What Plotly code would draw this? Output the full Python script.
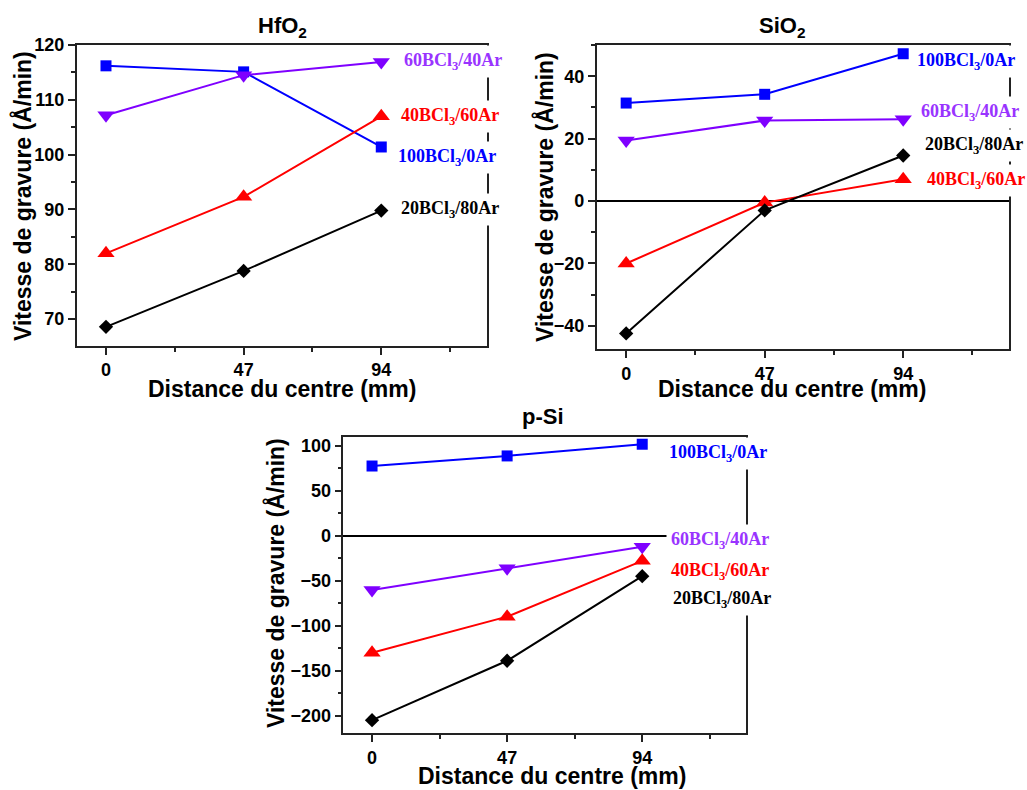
import plotly.graph_objects as go

# ---------------- data ----------------
distance = [0, 47, 94]
x_tick_vals = [0, 47, 94]
x_tick_text = ["0", "47", "94"]
x_minor_vals = [23.5, 70.5, 117.5]

series_names = ["100BCl<sub>3</sub>/0Ar", "60BCl<sub>3</sub>/40Ar",
                "40BCl<sub>3</sub>/60Ar", "20BCl<sub>3</sub>/80Ar"]

hfo2_100 = [116.2, 115.1, 101.4]
hfo2_60 = [107.2, 114.5, 116.9]
hfo2_40 = [82.0, 92.3, 107.0]
hfo2_20 = [68.6, 78.8, 89.8]

sio2_100 = [31.4, 34.2, 47.2]
sio2_60 = [19.4, 25.8, 26.2]
sio2_40 = [-20.0, -0.5, 7.0]
sio2_20 = [-42.4, -3.0, 14.6]

psi_100 = [77.4, 88.6, 101.6]
psi_60 = [-60.5, -36.2, -12.2]
psi_40 = [-130.0, -90.0, -28.0]
psi_20 = [-205.0, -139.0, -45.0]

panel_titles = ["HfO<sub>2</sub>", "SiO<sub>2</sub>", "p-Si"]
x_title = "Distance du centre (mm)"
y_title = "Vitesse de gravure (Å/min)"

# ---------------- styles ----------------
W, H = 1027, 790
AX = "#222222"
SANS = "Liberation Sans"
SERIF = "Liberation Serif"

styles = [
    dict(color="#0000ff", label="#0000ff", symbol="square", size=11),
    dict(color="#7f00ff", label="#9933ff", symbol="triangle-down", size=15),
    dict(color="#ff0000", label="#ff0000", symbol="triangle-up", size=15),
    dict(color="#000000", label="#000000", symbol="diamond", size=11),
]


def px(x):
    return x / W


def py(y):
    return 1 - y / H


panels = [
    dict(values=[hfo2_100, hfo2_60, hfo2_40, hfo2_20],
         xdom=[px(76.7), px(486.7)], ydom=[py(346), py(45)],
         yrange=[65.1, 120], dtick=10, tick0=0, minor=5, zero=False,
         labels=[(116.4, 99.4), (118.5, 116.9), (117.5, 107.0), (117.5, 90.0)],
         title_xy=(282, 27), ytitle_xy=(22, 196), xtitle_xy=(282, 389)),
    dict(values=[sio2_100, sio2_60, sio2_40, sio2_20],
         xdom=[px(596.7), px(1009.3)], ydom=[py(349.3), py(45)],
         yrange=[-47.5, 50], dtick=20, tick0=0, minor=10, zero=True,
         labels=[(115.2, 44.6), (116.6, 28.4), (118.7, 6.7), (118.0, 17.7)],
         title_xy=(782, 27), ytitle_xy=(544, 197), xtitle_xy=(792, 389)),
    dict(values=[psi_100, psi_60, psi_40, psi_20],
         xdom=[px(343.3), px(745.7)], ydom=[py(733.3), py(437.3)],
         yrange=[-219.6, 109.3], dtick=50, tick0=0, minor=25, zero=True,
         labels=[(120.4, 91.6), (121.0, -5.9), (121.0, -40.0), (121.6, -70.7)],
         title_xy=(543, 416), ytitle_xy=(275, 583), xtitle_xy=(552, 776)),
]

fig = go.Figure()
annotations = []
layout_axes = {}
tickfont = dict(family=SANS, size=18, color="black", weight="bold")

for i, p in enumerate(panels):
    n = i + 1
    xs = "x" if n == 1 else f"x{n}"
    ys = "y" if n == 1 else f"y{n}"
    xk = "xaxis" if n == 1 else f"xaxis{n}"
    yk = "yaxis" if n == 1 else f"yaxis{n}"
    ox, oy = n + 3, n + 3

    for vals, st, name in zip(p["values"], styles, series_names):
        fig.add_trace(go.Scatter(
            x=distance, y=vals, mode="lines+markers", name=name,
            xaxis=xs, yaxis=ys, showlegend=False, cliponaxis=False,
            line=dict(color=st["color"], width=2),
            marker=dict(symbol=st["symbol"], size=st["size"], color=st["color"]),
        ))

    layout_axes[xk] = dict(
        domain=p["xdom"], anchor=ys, range=[-10, 130], automargin=False,
        tickmode="array", tickvals=x_tick_vals, ticktext=x_tick_text,
        ticks="outside", ticklen=7, tickwidth=1.5, tickcolor=AX,
        showline=True, linecolor=AX, linewidth=1.5, mirror=True,
        showgrid=False, zeroline=False, tickfont=tickfont,
        minor=dict(tickmode="array", tickvals=x_minor_vals, ticks="outside",
                   ticklen=4, tickwidth=1.5, tickcolor=AX),
    )
    layout_axes[yk] = dict(
        domain=p["ydom"], anchor=xs, range=p["yrange"], automargin=False,
        tickmode="linear", tick0=p["tick0"], dtick=p["dtick"],
        ticks="outside", ticklen=7, tickwidth=1.5, tickcolor=AX,
        showline=True, linecolor=AX, linewidth=1.5, mirror=True,
        showgrid=False, zeroline=p["zero"], zerolinecolor="black",
        zerolinewidth=1.5, tickfont=tickfont,
        minor=dict(tickmode="linear", tick0=p["tick0"], dtick=p["minor"],
                   ticks="outside", ticklen=4, tickwidth=1.5, tickcolor=AX),
    )
    # mirrored inward ticks on the top and right sides
    layout_axes[f"xaxis{ox}"] = dict(
        overlaying=xs, side="top", anchor=ys, range=[-10, 130], automargin=False,
        tickmode="array", tickvals=x_tick_vals, ticks="inside", ticklen=7,
        tickwidth=1.5, tickcolor=AX, showticklabels=False, showline=False,
        showgrid=False, zeroline=False,
        minor=dict(tickmode="array", tickvals=x_minor_vals, ticks="inside",
                   ticklen=4, tickwidth=1.5, tickcolor=AX),
    )
    layout_axes[f"yaxis{oy}"] = dict(
        overlaying=ys, side="right", anchor=xs, range=p["yrange"], automargin=False,
        tickmode="linear", tick0=p["tick0"], dtick=p["dtick"], ticks="inside",
        ticklen=7, tickwidth=1.5, tickcolor=AX, showticklabels=False,
        showline=False, showgrid=False, zeroline=False,
        minor=dict(tickmode="linear", tick0=p["tick0"], dtick=p["minor"],
                   ticks="inside", ticklen=4, tickwidth=1.5, tickcolor=AX),
    )

    for (lx, ly), st, name in zip(p["labels"], styles, series_names):
        annotations.append(dict(
            x=lx, y=ly, xref=xs, yref=ys, text=f"<b>{name}</b>", showarrow=False,
            font=dict(family=SERIF, size=18, color=st["label"]),
            bgcolor="white", borderpad=4, xanchor="center", yanchor="middle",
        ))

    tx, ty = p["title_xy"]
    annotations.append(dict(
        x=px(tx), y=py(ty), xref="paper", yref="paper", showarrow=False,
        text=f"<b>{panel_titles[i]}</b>", font=dict(family=SANS, size=22, color="black"),
        xanchor="center", yanchor="middle"))
    yx, yy = p["ytitle_xy"]
    annotations.append(dict(
        x=px(yx), y=py(yy), xref="paper", yref="paper", showarrow=False,
        text=f"<b>{y_title}</b>", textangle=-90,
        font=dict(family=SANS, size=23, color="black"),
        xanchor="center", yanchor="middle"))
    xx, xy = p["xtitle_xy"]
    annotations.append(dict(
        x=px(xx), y=py(xy), xref="paper", yref="paper", showarrow=False,
        text=f"<b>{x_title}</b>", font=dict(family=SANS, size=23, color="black"),
        xanchor="center", yanchor="middle"))

fig.update_layout(
    width=W, height=H, margin=dict(l=0, r=0, t=0, b=0, pad=0, autoexpand=False),
    paper_bgcolor="white", plot_bgcolor="white",
    annotations=annotations, showlegend=False, **layout_axes,
)

fig.write_html(
    "out.html",
    config={"displayModeBar": False},
    post_script="document.body.style.margin='0';document.body.style.overflow='hidden';",
)
